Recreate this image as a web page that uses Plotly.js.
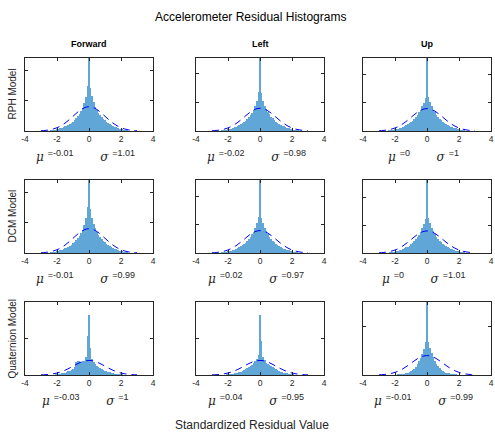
<!DOCTYPE html>
<html>
<head>
<meta charset="utf-8">
<script src="https://cdn.plot.ly/plotly-3.0.1.min.js"></script>
<style>html,body{margin:0;padding:0;background:#fff;}#chart{width:495px;height:435px;}</style>
</head>
<body>
<div id="chart"></div>
<script>
// ---- Data ----
const columns = ['Forward', 'Left', 'Up'];
const models = ['RPH Model', 'DCM Model', 'Quaternion Model'];

// Histogram bin heights (pdf normalisation), bins of width 0.1 centred from -2.5 to 2.5
const binStart = -2.5;
const binWidth = 0.1;

const rphForward = [0.008,0.011,0.015,0.019,0.024,0.03,0.036,0.044,0.053,0.063,0.075,0.088,0.1,0.118,0.135,0.155,0.18,0.21,0.24,0.28,0.33,0.38,0.46,0.56,0.74,
  1.2,
  0.7,0.57,0.47,0.4,0.35,0.3,0.26,0.23,0.2,0.175,0.155,0.135,0.115,0.1,0.086,0.073,0.061,0.05,0.041,0.033,0.026,0.02,0.015,0.011,0.008];
const rphLeft = [0.007,0.01,0.013,0.017,0.022,0.028,0.035,0.043,0.052,0.062,0.074,0.087,0.1,0.115,0.132,0.152,0.176,0.205,0.24,0.28,0.32,0.37,0.44,0.53,0.68,
  1.28,
  0.66,0.52,0.44,0.38,0.33,0.29,0.25,0.22,0.19,0.165,0.145,0.125,0.108,0.093,0.08,0.068,0.057,0.047,0.039,0.031,0.024,0.018,0.013,0.009,0.006];
const rphUp = [0.006,0.009,0.012,0.016,0.021,0.027,0.034,0.042,0.051,0.061,0.073,0.086,0.1,0.116,0.134,0.155,0.18,0.21,0.245,0.285,0.33,0.38,0.44,0.5,0.58,
  1.3,
  0.6,0.51,0.44,0.38,0.33,0.29,0.25,0.22,0.19,0.165,0.143,0.123,0.106,0.091,0.078,0.066,0.055,0.045,0.037,0.03,0.023,0.017,0.012,0.008,0.006];
const dcmForward = [0.008,0.011,0.014,0.018,0.023,0.029,0.036,0.044,0.053,0.064,0.076,0.089,0.102,0.118,0.136,0.157,0.182,0.21,0.245,0.285,0.33,0.385,0.46,0.57,0.76,
  1.2,
  0.72,0.58,0.48,0.41,0.35,0.3,0.26,0.23,0.2,0.175,0.152,0.132,0.114,0.098,0.084,0.071,0.06,0.05,0.041,0.033,0.026,0.02,0.015,0.011,0.008];
const dcmLeft = [0.006,0.009,0.012,0.016,0.021,0.027,0.034,0.042,0.051,0.061,0.073,0.086,0.1,0.116,0.134,0.155,0.18,0.21,0.245,0.285,0.33,0.38,0.45,0.54,0.64,
  1.3,
  0.63,0.53,0.45,0.39,0.34,0.29,0.25,0.22,0.19,0.165,0.143,0.123,0.106,0.091,0.078,0.066,0.055,0.045,0.037,0.03,0.023,0.017,0.012,0.008,0.006];
const dcmUp = [0.006,0.009,0.012,0.016,0.021,0.027,0.034,0.042,0.051,0.061,0.073,0.086,0.1,0.116,0.134,0.155,0.18,0.21,0.245,0.285,0.33,0.38,0.45,0.53,0.62,
  1.32,
  0.64,0.54,0.46,0.39,0.34,0.29,0.25,0.22,0.19,0.165,0.143,0.123,0.106,0.091,0.078,0.066,0.055,0.045,0.037,0.03,0.023,0.017,0.012,0.008,0.006];
const quatForward = [0.004,0.006,0.008,0.011,0.015,0.02,0.026,0.033,0.042,0.053,0.066,0.082,0.1,0.12,0.145,0.175,0.22,0.36,0.38,0.37,0.36,0.37,0.39,0.5,1.07,
  1.65,
  0.75,0.45,0.36,0.3,0.26,0.22,0.19,0.16,0.14,0.12,0.1,0.085,0.07,0.058,0.048,0.04,0.033,0.027,0.022,0.018,0.014,0.011,0.008,0.006,0.004];
const quatLeft = [0.004,0.006,0.008,0.011,0.014,0.018,0.023,0.029,0.036,0.045,0.055,0.067,0.08,0.095,0.112,0.132,0.155,0.18,0.21,0.24,0.28,0.32,0.38,0.45,0.55,
  1.64,
  0.92,0.5,0.4,0.34,0.3,0.27,0.24,0.21,0.18,0.155,0.132,0.112,0.095,0.08,0.067,0.055,0.045,0.036,0.029,0.023,0.018,0.013,0.009,0.006,0.004];
const quatUp = [0.002,0.003,0.004,0.005,0.006,0.008,0.01,0.012,0.015,0.018,0.022,0.028,0.035,0.045,0.058,0.075,0.1,0.13,0.17,0.22,0.28,0.35,0.44,0.53,0.67,
  1.5,
  0.68,0.55,0.45,0.36,0.29,0.23,0.18,0.14,0.11,0.085,0.065,0.05,0.04,0.032,0.025,0.02,0.016,0.012,0.009,0.007,0.005,0.004,0.003,0.002,0.002];

// Fitted normal curve (dashed), sampled every 0.25 from -3 to 3
const curveStart = -3;
const curveStep = 0.25;
const curveValues = [0.0044,0.0091,0.0175,0.0317,0.054,0.0863,0.1295,0.1826,0.242,0.3011,0.3521,0.3867,0.3989,0.3867,0.3521,0.3011,0.242,0.1826,0.1295,0.0863,0.054,0.0317,0.0175,0.0091,0.0044];

const muLabels = ['-0.01','-0.02','0','-0.01','0.02','0','-0.03','0.04','-0.01'];
const sigmaLabels = ['1.01','0.98','1','0.99','0.97','1.01','1','0.95','0.99'];

const yLimits = [1.2, 1.28, 1.3, 1.2, 1.3, 1.32, 2, 2, 1.5];
const xTickVals = [-4,-2,0,2,4];
const xTickText = ['-4','-2','0','2','4'];

// ---- Layout geometry ----
const W = 495, H = 435;
const colPx = [[25,153],[196,324],[363,491]];
const rowPx = [[58,131],[180,253],[302,375]];
const panels = [rphForward, rphLeft, rphUp, dcmForward, dcmLeft, dcmUp, quatForward, quatLeft, quatUp];

const FONT = 'Arial, "Liberation Sans", Helvetica, sans-serif';
const SERIF = '"DejaVu Serif", "Liberation Serif", serif';
const AX = '#262626';
const BAR = 'rgb(96,166,214)';

const traces = [];
const layout = {
  width: W, height: H,
  margin: {l:0, r:0, t:0, b:0},
  paper_bgcolor: '#fff', plot_bgcolor: '#fff',
  showlegend: false,
  bargap: 0,
  font: {family: FONT, color: AX},
  annotations: []
};

const px2x = p => p / W;
const px2y = p => 1 - p / H;
const nb = '\u00A0';

for (let r = 0; r < 3; r++) {
  for (let c = 0; c < 3; c++) {
    const i = r * 3 + c;
    const n = i + 1;
    const xa = 'x' + (n === 1 ? '' : n);
    const ya = 'y' + (n === 1 ? '' : n);
    traces.push({
      type: 'bar', x0: binStart, dx: binWidth, y: panels[i],
      xaxis: xa, yaxis: ya,
      marker: {color: BAR, line: {width: 0}},
      hoverinfo: 'skip'
    });
    traces.push({
      type: 'scatter', mode: 'lines', x0: curveStart, dx: curveStep, y: curveValues,
      xaxis: xa, yaxis: ya,
      line: {color: 'rgb(0,0,255)', width: 1, dash: '7px,5px', shape: 'spline'},
      hoverinfo: 'skip'
    });
    const ylim = yLimits[i];
    const yticks = ylim >= 1.8 ? [0,1,2] : (ylim <= 1.5 && r === 2 ? [0,1] : [0,0.5,1]);
    layout['xaxis' + (n === 1 ? '' : n)] = {
      domain: [px2x(colPx[c][0]), px2x(colPx[c][1])],
      anchor: ya, range: [-4, 4],
      tickvals: xTickVals, ticktext: xTickText,
      ticks: 'inside', ticklen: 3, tickwidth: 1, tickcolor: AX,
      showline: true, linecolor: AX, linewidth: 1, mirror: 'ticks',
      showgrid: false, zeroline: false,
      ticklabeloverflow: 'allow',
      tickfont: {size: 8.5, color: AX, family: FONT},
      fixedrange: true
    };
    layout['yaxis' + (n === 1 ? '' : n)] = {
      domain: [px2y(rowPx[r][1]), px2y(rowPx[r][0])],
      anchor: xa, range: [0, ylim],
      tickvals: yticks, showticklabels: false,
      ticks: 'inside', ticklen: 3, tickwidth: 1, tickcolor: AX,
      showline: true, linecolor: AX, linewidth: 1, mirror: 'ticks',
      showgrid: false, zeroline: false, fixedrange: true
    };
    // mu / sigma label under each panel
    const cx = (colPx[c][0] + colPx[c][1]) / 2 - 4;
    const yb = rowPx[r][1] + 25;
    const sup = s => '<sup><span style="font-family:Arial, Liberation Sans, sans-serif;font-style:normal;font-size:9px">=' + s + '</span></sup>';
    layout.annotations.push({
      xref: 'paper', yref: 'paper', x: px2x(cx), y: px2y(yb),
      xanchor: 'center', yanchor: 'middle', showarrow: false,
      text: '<i>μ</i>' + nb + sup(muLabels[i]) + nb.repeat(7) + '<i>σ</i>' + nb + sup(sigmaLabels[i]),
      font: {family: SERIF, size: 12, color: AX}
    });
  }
}

// column titles
columns.forEach((t, c) => {
  layout.annotations.push({
    xref: 'paper', yref: 'paper', x: px2x((colPx[c][0] + colPx[c][1]) / 2), y: px2y(44),
    xanchor: 'center', yanchor: 'middle', showarrow: false,
    text: '<b>' + t + '</b>', font: {family: FONT, size: 9, color: '#000'}
  });
});
// row titles
models.forEach((t, r) => {
  layout.annotations.push({
    xref: 'paper', yref: 'paper', x: px2x(12), y: px2y((rowPx[r][0] + rowPx[r][1]) / 2),
    xanchor: 'center', yanchor: 'middle', showarrow: false, textangle: -90,
    text: t, font: {family: FONT, size: 10, color: AX}
  });
});
// overall title and x label
layout.annotations.push({
  xref: 'paper', yref: 'paper', x: px2x(250), y: px2y(17),
  xanchor: 'center', yanchor: 'middle', showarrow: false,
  text: 'Accelerometer Residual Histograms', font: {family: FONT, size: 12, color: '#000'}
});
layout.annotations.push({
  xref: 'paper', yref: 'paper', x: px2x(252), y: px2y(425),
  xanchor: 'center', yanchor: 'middle', showarrow: false,
  text: 'Standardized Residual Value', font: {family: FONT, size: 12, color: AX}
});

Plotly.newPlot('chart', traces, layout, {staticPlot: true, displayModeBar: false});
</script>
</body>
</html>
